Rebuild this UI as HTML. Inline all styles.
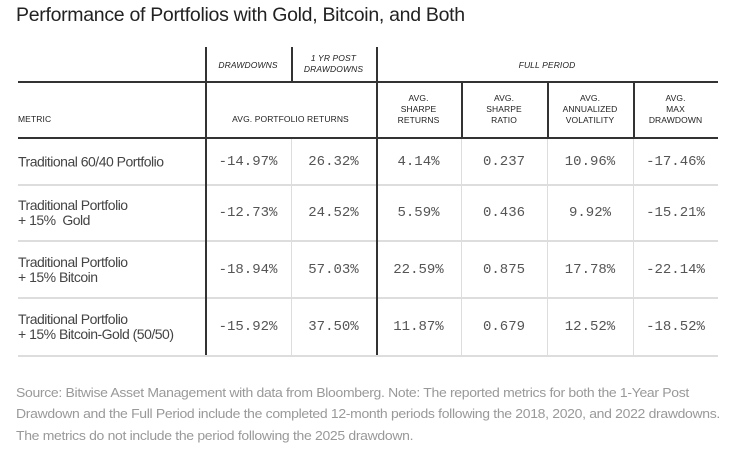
<!DOCTYPE html>
<html><head><meta charset="utf-8"><style>
body{margin:0;width:734px;height:451px;background:#fff;position:relative;overflow:hidden;font-family:"Liberation Sans",sans-serif;color:#222}
.a{position:absolute}
.h{font-size:8.5px;color:#222;text-align:center;line-height:11px;letter-spacing:0.1px}
.i{font-style:italic}
.n{font-family:"Liberation Mono",monospace;font-size:14px;color:#555;text-align:center;transform:translateY(-50%)}
.l{font-size:14px;color:#444;letter-spacing:-0.5px;line-height:15px;transform:translateY(-50%)}
.s{position:absolute;left:16px;font-size:13px;color:#999;white-space:nowrap;transform-origin:0 0;letter-spacing:-0.3px}
</style></head><body>
<div class="a" style="left:16px;top:4px;font-size:19.5px;letter-spacing:-0.3px;color:#222">Performance of Portfolios with Gold, Bitcoin, and Both</div>
<div id="tbl"></div>
<div>
<span class="s" data-w="662" style="top:385px">Source: Bitwise Asset Management with data from Bloomberg. Note: The reported metrics for both the 1-Year Post</span>
<span class="s" data-w="704" style="top:406px">Drawdown and the Full Period include the completed 12-month periods following the 2018, 2020, and 2022 drawdowns.</span>
<span class="s" data-w="280" style="top:428px">The metrics do not include the period following the 2025 drawdown.</span>
</div>
<script>
const rowLabels=["Traditional 60/40 Portfolio","Traditional Portfolio<br>+ 15%&nbsp; Gold","Traditional Portfolio<br>+ 15% Bitcoin","Traditional Portfolio<br>+ 15% Bitcoin-Gold (50/50)"];
const drawdowns=["-14.97%","-12.73%","-18.94%","-15.92%"];
const postDrawdowns=["26.32%","24.52%","57.03%","37.50%"];
const sharpeReturns=["4.14%","5.59%","22.59%","11.87%"];
const sharpeRatio=["0.237","0.436","0.875","0.679"];
const volatility=["10.96%","9.92%","17.78%","12.52%"];
const maxDrawdown=["-17.46%","-15.21%","-22.14%","-18.52%"];
const cols=[drawdowns,postDrawdowns,sharpeReturns,sharpeRatio,volatility,maxDrawdown];
const colX=[205,291,376,461,547,633,718];
const rowY=[138,184,240,297,355];
const t=document.getElementById('tbl');
function box(x,y,w,h,c,name){const d=document.createElement('div');d.className='a';d.style.cssText=`left:${x}px;top:${y}px;width:${w}px;height:${h}px;background:${c}`;


t.appendChild(d);return d;}
function txt(x,y,w,html,cls,name,style){const d=document.createElement('div');d.className='a '+cls;d.style.cssText=`left:${x}px;top:${y}px;width:${w}px;`+(style||'');d.innerHTML=html;


t.appendChild(d);return d;}
for(let r=1;r<rowY.length;r++)box(18,rowY[r],700,1.5,'#ddd','row-divider');
[291,461,547,633].forEach(x=>box(x,138,1,217,'#ddd','column-divider'));
box(18,81,700,2,'#333','header-rule');
box(18,137,700,2,'#333','header-rule');
box(205,47,1.5,308,'#333','column-rule');
box(376,47,1.5,308,'#333','column-rule');
box(291,47,1.5,35,'#333','column-rule');
[461,547,633].forEach(x=>box(x,82,1.5,56,'#333','column-rule'));
txt(205,60,86,'DRAWDOWNS','h i','header-drawdowns');
txt(291,53,85,'1 YR POST<br>DRAWDOWNS','h i','header-1yr-post');
txt(376,60,342,'FULL PERIOD','h i','header-full-period');
txt(18,114,100,'METRIC','h','header-metric','text-align:left');
txt(205,114,171,'AVG. PORTFOLIO RETURNS','h','header-avg-returns');
const sub=['AVG.<br>SHARPE<br>RETURNS','AVG.<br>SHARPE<br>RATIO','AVG.<br>ANNUALIZED<br>VOLATILITY','AVG.<br>MAX<br>DRAWDOWN'];
sub.forEach((s,i)=>txt(colX[2+i],93,colX[3+i]-colX[2+i],s,'h','header-sub'));
for(let r=0;r<rowLabels.length;r++){
 const cy=(rowY[r]+rowY[r+1])/2+1;
 txt(18,cy,185,rowLabels[r],'l','row-label');
 cols.forEach((c,i)=>txt(colX[i],cy,colX[i+1]-colX[i],c[r],'n','value-cell'));
}
const s1=document.querySelectorAll('.s');
const k=s1[1].getBoundingClientRect().width;
const f=704/k;
s1.forEach(s=>{s.style.transform=`scaleX(${f})`;});
</script>
</body></html>
